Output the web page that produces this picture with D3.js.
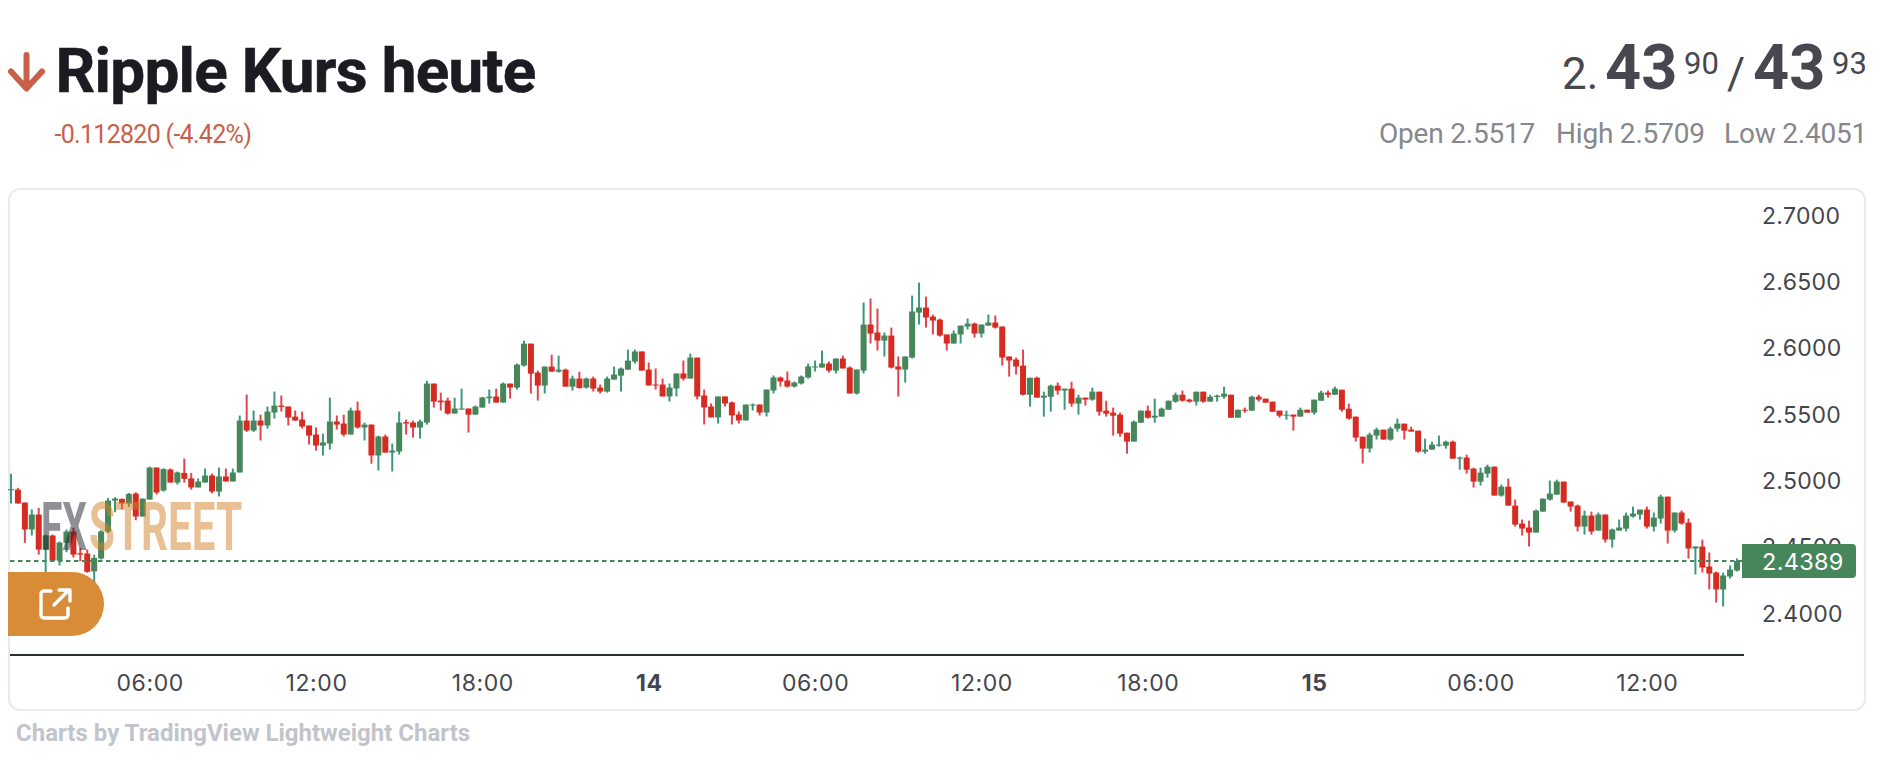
<!DOCTYPE html>
<html>
<head>
<meta charset="utf-8">
<script src="https://cdn.jsdelivr.net/npm/d3@7"></script>
<style>
  html, body { margin: 0; background: #fff; }
  svg { display: block; }
  text { font-family: Roboto, sans-serif; }
</style>
</head>
<body>
<svg id="chart" width="1884" height="765"></svg>
<script>
// 15 minute candles, first one is 01:00 on the 13th
var OPENS = [
  2.4923,2.4928,2.4830,2.4627,2.4740,2.4476,2.4582,2.4393,2.4527,2.4612,
  2.4448,2.4446,2.4311,2.4409,2.4612,2.4845,2.4858,2.4823,2.4898,2.4725,
  2.4853,2.5094,2.4921,2.5079,2.4981,2.5054,2.5012,2.4944,2.4981,2.5034,
  2.4913,2.5027,2.4989,2.5057,2.5448,2.5373,2.5448,2.5411,2.5509,2.5561,
  2.5554,2.5478,2.5456,2.5411,2.5343,2.5260,2.5275,2.5441,2.5426,2.5343,
  2.5524,2.5396,2.5418,2.5185,2.5328,2.5207,2.5215,2.5436,2.5433,2.5396,
  2.5433,2.5727,2.5599,2.5599,2.5501,2.5531,2.5539,2.5493,2.5546,2.5617,
  2.5629,2.5584,2.5727,2.5697,2.5863,2.6028,2.5810,2.5712,2.5855,2.5817,
  2.5832,2.5704,2.5765,2.5697,2.5765,2.5697,2.5667,2.5757,2.5787,2.5832,
  2.5893,2.5969,2.5833,2.5720,2.5720,2.5630,2.5690,2.5803,2.5765,2.5923,
  2.5637,2.5554,2.5472,2.5630,2.5585,2.5494,2.5449,2.5562,2.5569,2.5509,
  2.5675,2.5773,2.5750,2.5705,2.5728,2.5773,2.5848,2.5848,2.5878,2.5825,
  2.5916,2.5848,2.5652,2.5825,2.6172,2.6112,2.6051,2.6089,2.5856,2.5833,
  2.5923,2.6262,2.6300,2.6232,2.6209,2.6097,2.6029,2.6097,2.6157,2.6179,
  2.6104,2.6164,2.6187,2.6157,2.5931,2.5908,2.5862,2.5643,2.5771,2.5621,
  2.5628,2.5711,2.5674,2.5689,2.5576,2.5621,2.5606,2.5666,2.5523,2.5508,
  2.5493,2.5357,2.5290,2.5432,2.5523,2.5470,2.5478,2.5530,2.5591,2.5643,
  2.5606,2.5591,2.5666,2.5591,2.5626,2.5628,2.5643,2.5470,2.5530,2.5523,
  2.5628,2.5613,2.5591,2.5523,2.5485,2.5493,2.5478,2.5530,2.5508,2.5598,
  2.5659,2.5643,2.5681,2.5538,2.5478,2.5327,2.5237,2.5335,2.5380,2.5305,
  2.5387,2.5425,2.5380,2.5372,2.5214,2.5229,2.5259,2.5259,2.5289,2.5161,
  2.5169,2.5086,2.4988,2.5048,2.5101,2.4883,2.4950,2.4807,2.4672,2.4642,
  2.4604,2.4762,2.4853,2.4890,2.4988,2.4838,2.4807,2.4649,2.4732,2.4619,
  2.4740,2.4551,2.4619,2.4634,2.4725,2.4740,2.4777,2.4649,2.4710,2.4875,
  2.4619,2.4755,2.4679,2.4484,2.4499,2.4348,2.4303,2.4175,2.4273,2.4318
];
var HIGHS = [
  2.5047,2.4941,2.4830,2.4778,2.4790,2.4590,2.4589,2.4536,2.4627,2.4639,
  2.4489,2.4476,2.4438,2.4622,2.4865,2.4870,2.4860,2.4903,2.4908,2.4860,
  2.5101,2.5094,2.5089,2.5087,2.5064,2.5162,2.5054,2.5012,2.5087,2.5049,
  2.5094,2.5087,2.5087,2.5486,2.5644,2.5524,2.5493,2.5554,2.5667,2.5637,
  2.5554,2.5524,2.5516,2.5411,2.5396,2.5350,2.5621,2.5486,2.5493,2.5546,
  2.5591,2.5433,2.5418,2.5335,2.5343,2.5275,2.5516,2.5456,2.5448,2.5456,
  2.5749,2.5727,2.5659,2.5621,2.5621,2.5689,2.5539,2.5561,2.5627,2.5682,
  2.5689,2.5735,2.5727,2.5878,2.6051,2.6028,2.5825,2.5855,2.5945,2.5938,
  2.5840,2.5787,2.5817,2.5772,2.5780,2.5720,2.5780,2.5855,2.5848,2.5983,
  2.5984,2.5969,2.5886,2.5841,2.5765,2.5728,2.5803,2.5901,2.5953,2.5923,
  2.5682,2.5577,2.5630,2.5630,2.5592,2.5517,2.5569,2.5577,2.5569,2.5682,
  2.5788,2.5780,2.5818,2.5743,2.5788,2.5878,2.5901,2.5976,2.5893,2.5916,
  2.5938,2.5856,2.5833,2.6338,2.6368,2.6292,2.6112,2.6149,2.5931,2.5931,
  2.6390,2.6488,2.6383,2.6247,2.6217,2.6097,2.6127,2.6164,2.6217,2.6187,
  2.6172,2.6247,2.6240,2.6157,2.5931,2.5923,2.5983,2.5771,2.5779,2.5666,
  2.5719,2.5734,2.5689,2.5741,2.5643,2.5621,2.5696,2.5666,2.5598,2.5546,
  2.5508,2.5357,2.5448,2.5523,2.5561,2.5613,2.5546,2.5598,2.5659,2.5674,
  2.5613,2.5666,2.5666,2.5643,2.5643,2.5704,2.5643,2.5530,2.5546,2.5636,
  2.5643,2.5613,2.5591,2.5523,2.5523,2.5493,2.5546,2.5530,2.5606,2.5674,
  2.5674,2.5704,2.5681,2.5576,2.5478,2.5327,2.5357,2.5395,2.5380,2.5402,
  2.5463,2.5425,2.5402,2.5372,2.5312,2.5289,2.5335,2.5297,2.5297,2.5176,
  2.5191,2.5093,2.5093,2.5116,2.5101,2.4966,2.5011,2.4853,2.4702,2.4694,
  2.4777,2.4860,2.4996,2.5003,2.4988,2.4838,2.4815,2.4770,2.4762,2.4755,
  2.4740,2.4634,2.4702,2.4755,2.4800,2.4777,2.4800,2.4755,2.4890,2.4875,
  2.4755,2.4770,2.4710,2.4499,2.4551,2.4454,2.4310,2.4303,2.4356,2.4408
];
var LOWS = [
  2.4823,2.4823,2.4526,2.4582,2.4438,2.4305,2.4388,2.4356,2.4456,2.4416,
  2.4388,2.4301,2.4225,2.4401,2.4602,2.4757,2.4778,2.4797,2.4697,2.4725,
  2.4853,2.4891,2.4913,2.4981,2.4966,2.4981,2.4928,2.4944,2.4981,2.4899,
  2.4876,2.4989,2.4989,2.5057,2.5363,2.5363,2.5298,2.5388,2.5463,2.5516,
  2.5411,2.5448,2.5388,2.5268,2.5222,2.5185,2.5230,2.5380,2.5328,2.5343,
  2.5388,2.5298,2.5124,2.5072,2.5207,2.5064,2.5192,2.5343,2.5320,2.5313,
  2.5418,2.5546,2.5524,2.5493,2.5501,2.5531,2.5358,2.5493,2.5546,2.5576,
  2.5584,2.5584,2.5614,2.5682,2.5855,2.5652,2.5599,2.5652,2.5817,2.5810,
  2.5704,2.5674,2.5689,2.5689,2.5667,2.5652,2.5659,2.5757,2.5667,2.5832,
  2.5878,2.5825,2.5713,2.5682,2.5630,2.5592,2.5630,2.5750,2.5765,2.5607,
  2.5419,2.5472,2.5426,2.5554,2.5419,2.5426,2.5449,2.5524,2.5487,2.5479,
  2.5652,2.5705,2.5697,2.5697,2.5720,2.5765,2.5818,2.5848,2.5810,2.5803,
  2.5841,2.5652,2.5645,2.5803,2.6029,2.5976,2.5931,2.5841,2.5630,2.5735,
  2.5916,2.6172,2.6149,2.6097,2.6081,2.5976,2.6029,2.6029,2.6134,2.6074,
  2.6074,2.6164,2.6142,2.5863,2.5780,2.5795,2.5638,2.5553,2.5621,2.5478,
  2.5515,2.5643,2.5530,2.5553,2.5493,2.5561,2.5598,2.5485,2.5478,2.5335,
  2.5327,2.5199,2.5290,2.5432,2.5463,2.5432,2.5478,2.5530,2.5583,2.5591,
  2.5583,2.5561,2.5583,2.5591,2.5591,2.5613,2.5470,2.5470,2.5508,2.5523,
  2.5591,2.5583,2.5515,2.5470,2.5455,2.5372,2.5478,2.5508,2.5493,2.5598,
  2.5621,2.5643,2.5515,2.5455,2.5290,2.5124,2.5207,2.5305,2.5305,2.5297,
  2.5365,2.5305,2.5365,2.5206,2.5199,2.5229,2.5252,2.5237,2.5161,2.5078,
  2.5048,2.4943,2.4958,2.5018,2.4883,2.4875,2.4807,2.4649,2.4582,2.4499,
  2.4604,2.4762,2.4845,2.4890,2.4830,2.4762,2.4612,2.4589,2.4589,2.4619,
  2.4529,2.4491,2.4619,2.4612,2.4717,2.4702,2.4634,2.4612,2.4672,2.4521,
  2.4604,2.4664,2.4408,2.4288,2.4303,2.4175,2.4077,2.4047,2.4258,2.4310
];
var CLOSES = [
  2.4931,2.4823,2.4627,2.4740,2.4476,2.4582,2.4393,2.4529,2.4612,2.4438,
  2.4438,2.4308,2.4413,2.4612,2.4845,2.4860,2.4823,2.4895,2.4725,2.4860,
  2.5094,2.4906,2.5082,2.4981,2.5057,2.5009,2.4944,2.4989,2.5034,2.4913,
  2.5027,2.4989,2.5057,2.5448,2.5373,2.5448,2.5411,2.5516,2.5561,2.5551,
  2.5471,2.5448,2.5403,2.5335,2.5260,2.5283,2.5441,2.5418,2.5343,2.5524,
  2.5396,2.5418,2.5185,2.5328,2.5207,2.5222,2.5433,2.5426,2.5396,2.5441,
  2.5727,2.5591,2.5586,2.5501,2.5539,2.5539,2.5493,2.5554,2.5622,2.5629,
  2.5584,2.5727,2.5697,2.5870,2.6028,2.5802,2.5712,2.5855,2.5817,2.5832,
  2.5704,2.5765,2.5694,2.5765,2.5689,2.5667,2.5765,2.5795,2.5840,2.5900,
  2.5969,2.5825,2.5713,2.5713,2.5630,2.5697,2.5803,2.5765,2.5923,2.5630,
  2.5547,2.5472,2.5630,2.5577,2.5487,2.5449,2.5569,2.5569,2.5509,2.5682,
  2.5773,2.5743,2.5705,2.5735,2.5780,2.5856,2.5856,2.5878,2.5825,2.5916,
  2.5841,2.5652,2.5833,2.6172,2.6104,2.6051,2.6089,2.5848,2.5833,2.5931,
  2.6270,2.6300,2.6225,2.6202,2.6089,2.6029,2.6104,2.6164,2.6179,2.6104,
  2.6172,2.6187,2.6149,2.5923,2.5901,2.5856,2.5643,2.5771,2.5621,2.5636,
  2.5711,2.5674,2.5689,2.5576,2.5621,2.5606,2.5666,2.5515,2.5500,2.5485,
  2.5350,2.5290,2.5440,2.5523,2.5470,2.5485,2.5538,2.5598,2.5643,2.5598,
  2.5591,2.5666,2.5591,2.5628,2.5636,2.5651,2.5470,2.5530,2.5523,2.5628,
  2.5606,2.5583,2.5515,2.5485,2.5493,2.5478,2.5530,2.5508,2.5606,2.5659,
  2.5643,2.5689,2.5530,2.5463,2.5320,2.5237,2.5342,2.5380,2.5305,2.5387,
  2.5425,2.5372,2.5365,2.5214,2.5229,2.5267,2.5267,2.5289,2.5161,2.5169,
  2.5078,2.4988,2.5056,2.5101,2.4883,2.4950,2.4807,2.4664,2.4634,2.4604,
  2.4770,2.4860,2.4898,2.4988,2.4830,2.4800,2.4649,2.4732,2.4612,2.4740,
  2.4551,2.4627,2.4642,2.4732,2.4747,2.4777,2.4649,2.4717,2.4875,2.4619,
  2.4755,2.4672,2.4484,2.4499,2.4341,2.4295,2.4175,2.4280,2.4325,2.4389
];

var PRICE_TICKS = [2.4, 2.45, 2.5, 2.55, 2.6, 2.65, 2.7];
var TIME_TICK_INDEX = [20, 44, 68, 92, 116, 140, 164, 188, 212, 236];
var TIME_TICK_LABELS = ["06:00", "12:00", "18:00", "14", "06:00", "12:00", "18:00", "15", "06:00", "12:00"];
var BOLD_LABELS = ["14", "15"];
var LAST_PRICE = 2.4389;

// colours
var UP_BODY = "#47855a", UP_WICK = "#3b9880";
var DOWN_BODY = "#d62b21", DOWN_WICK = "#e2444f";
var RED_TEXT = "#c9604a", AXIS_TEXT = "#45464d";

var svg = d3.select("#chart");

// layout of the plot
var x = d3.scaleLinear().domain([0, OPENS.length - 1]).range([11, 1737]);
var y = d3.scaleLinear().domain([2.4, 2.7]).range([612.7, 214.7]);
var BAR_W = 6;

// header
svg.append("path")
  .attr("d", "M26.5 55V88M11 71.5L26.5 88.5L42 71.5")
  .attr("fill", "none")
  .attr("stroke", RED_TEXT)
  .attr("stroke-width", 6)
  .attr("stroke-linecap", "round")
  .attr("stroke-linejoin", "round");

svg.append("text").attr("x", 55.5).attr("y", 92)
  .attr("font-size", 62).attr("font-weight", 700).attr("fill", "#1b1c22")
  .attr("letter-spacing", -0.7)
  .attr("stroke", "#1b1c22").attr("stroke-width", 0.6)
  .text("Ripple Kurs heute");

svg.append("text").attr("x", 54.5).attr("y", 143)
  .attr("font-size", 25).attr("fill", RED_TEXT)
  .attr("letter-spacing", -0.7)
  .text("-0.112820 (-4.42%)");

// bid / ask
var quoteParts = [
  { t: "2.", x: 1562, y: 89, s: 44, w: 400 },
  { t: "43", x: 1605, y: 89, s: 63, w: 700 },
  { t: "90", x: 1684, y: 74, s: 31, w: 400 },
  { t: "/", x: 1727, y: 89, s: 44, w: 400 },
  { t: "43", x: 1753, y: 89, s: 63, w: 700 },
  { t: "93", x: 1832, y: 74, s: 31, w: 400 }
];
svg.append("g").selectAll("text").data(quoteParts).enter().append("text")
  .attr("x", function (d) { return d.x; })
  .attr("y", function (d) { return d.y; })
  .attr("font-size", function (d) { return d.s; })
  .attr("font-weight", function (d) { return d.w; })
  .attr("fill", "#47484f")
  .text(function (d) { return d.t; });

var ohlcParts = [
  { t: "Open 2.5517", x: 1379 },
  { t: "High 2.5709", x: 1556 },
  { t: "Low 2.4051", x: 1724 }
];
svg.append("g").selectAll("text").data(ohlcParts).enter().append("text")
  .attr("x", function (d) { return d.x; })
  .attr("y", 143)
  .attr("font-size", 28)
  .attr("letter-spacing", -0.2)
  .attr("fill", "#86878c")
  .text(function (d) { return d.t; });

// card around the chart
svg.append("rect")
  .attr("x", 9).attr("y", 189).attr("width", 1856).attr("height", 521)
  .attr("rx", 11).attr("fill", "#fff")
  .attr("stroke", "#e9eaef").attr("stroke-width", 2);

// candles
var candles = svg.append("g").selectAll("g").data(OPENS).enter().append("g");

candles.append("line")
  .attr("x1", function (d, i) { return x(i); })
  .attr("x2", function (d, i) { return x(i); })
  .attr("y1", function (d, i) { return y(HIGHS[i]); })
  .attr("y2", function (d, i) { return y(LOWS[i]); })
  .attr("stroke", function (d, i) { return CLOSES[i] >= d ? UP_WICK : DOWN_WICK; })
  .attr("stroke-width", 2);

candles.append("rect")
  .attr("x", function (d, i) { return x(i) - BAR_W / 2; })
  .attr("width", BAR_W)
  .attr("y", function (d, i) { return y(Math.max(d, CLOSES[i])); })
  .attr("height", function (d, i) { return Math.max(1, Math.abs(y(d) - y(CLOSES[i]))); })
  .attr("fill", function (d, i) { return CLOSES[i] >= d ? UP_BODY : DOWN_BODY; });

// last price line
svg.append("line")
  .attr("x1", 10).attr("x2", 1742)
  .attr("y1", y(LAST_PRICE)).attr("y2", y(LAST_PRICE))
  .attr("stroke", UP_BODY).attr("stroke-width", 2)
  .attr("stroke-dasharray", "4.5 3.5");

// time axis
var xAxis = d3.axisBottom(x)
  .tickValues(TIME_TICK_INDEX)
  .tickFormat(function (d, i) { return TIME_TICK_LABELS[i]; })
  .tickSize(0)
  .tickPadding(19);

var xAxisG = svg.append("g").attr("transform", "translate(0,656)").call(xAxis);
xAxisG.select(".domain").remove();
svg.append("line").attr("x1", 10).attr("x2", 1744).attr("y1", 655).attr("y2", 655)
  .attr("stroke", "#2a2e39").attr("stroke-width", 2);
xAxisG.selectAll("text")
  .style("font-family", "Inter, sans-serif")
  .attr("font-size", 23)
  .attr("letter-spacing", 0.6)
  .attr("fill", AXIS_TEXT)
  .attr("font-weight", function (d, i) { return BOLD_LABELS.indexOf(TIME_TICK_LABELS[i]) >= 0 ? 700 : 400; });

// price axis
var yAxis = d3.axisRight(y)
  .tickValues(PRICE_TICKS)
  .tickFormat(d3.format(".4f"))
  .tickSize(0)
  .tickPadding(0);

var yAxisG = svg.append("g").attr("transform", "translate(1762,1)").call(yAxis);
yAxisG.select(".domain").remove();
yAxisG.selectAll("text")
  .style("font-family", "Inter, sans-serif")
  .attr("font-size", 23)
  .attr("letter-spacing", 0.3)
  .attr("fill", AXIS_TEXT);

// last price label
svg.append("path")
  .attr("d", "M1742 544H1852a4 4 0 0 1 4 4V574a4 4 0 0 1 -4 4H1742Z")
  .attr("fill", UP_BODY);
svg.append("text")
  .attr("x", 1762).attr("y", y(LAST_PRICE))
  .attr("dy", "0.36em")
  .style("font-family", "Inter, sans-serif")
  .attr("font-size", 23.5)
  .attr("letter-spacing", 0.3)
  .attr("fill", "#fff")
  .text(d3.format(".4f")(LAST_PRICE));

// watermark, sits over the candles
svg.append("text")
  .attr("x", 41).attr("y", 550)
  .attr("textLength", 46).attr("lengthAdjust", "spacingAndGlyphs")
  .style("font-family", "'Liberation Sans Narrow', Roboto, sans-serif")
  .attr("font-size", 66).attr("font-weight", 700)
  .attr("fill", "#20232b").attr("opacity", 0.5)
  .text("FX");
svg.append("text")
  .attr("x", 89).attr("y", 550)
  .attr("textLength", 153).attr("lengthAdjust", "spacingAndGlyphs")
  .style("font-family", "'Liberation Sans Narrow', Roboto, sans-serif")
  .attr("font-size", 66).attr("font-weight", 700)
  .attr("fill", "#d4822a").attr("opacity", 0.5)
  .text("STREET");

// orange link button
svg.append("path")
  .attr("d", "M8 572H72a32 32 0 0 1 0 64H8Z")
  .attr("fill", "#d88c38");
svg.append("path")
  .attr("d", "M51 591H44a3 3 0 0 0 -3 3V615a3 3 0 0 0 3 3H65a3 3 0 0 0 3 -3V608M54 605L69 590M59 590H70V601")
  .attr("fill", "none")
  .attr("stroke", "#fff")
  .attr("stroke-width", 3.4)
  .attr("stroke-linecap", "round")
  .attr("stroke-linejoin", "round");

// footer
svg.append("text").attr("x", 16).attr("y", 741)
  .attr("font-size", 24).attr("font-weight", 700).attr("fill", "#c2c4cb")
  .text("Charts by TradingView Lightweight Charts");
</script>
</body>
</html>
